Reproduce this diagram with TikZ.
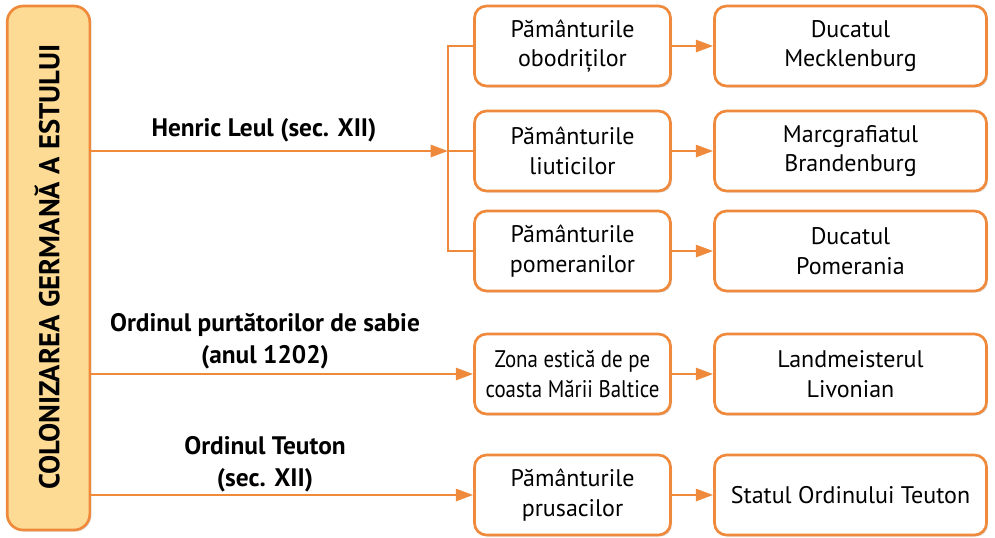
\documentclass[tikz,border=0pt]{standalone}
\usepackage{fontspec}
\setmainfont{PT Sans}
\newfontfamily\narrowsans[FakeStretch=0.87]{PT Sans}
\usetikzlibrary{arrows.meta,shadows}
\definecolor{edge}{RGB}{239,137,59}
\definecolor{barfill}{RGB}{253,219,148}

\begin{document}
\begin{tikzpicture}[x=0.75pt, y=-0.75pt,
        land/.style={rectangle, rounded corners=9pt, draw=edge, line width=2pt, fill=white,
            minimum width=147pt, minimum height=60pt, align=center,
            font=\fontsize{18}{22}\selectfont,
            drop shadow={shadow xshift=1.2pt, shadow yshift=-1.2pt, opacity=0.25}},
        realm/.style={land, minimum width=204pt},
        band/.style={rectangle, rounded corners=12pt, draw=edge, line width=2pt, fill=barfill,
            minimum width=62pt, minimum height=393pt,
            drop shadow={shadow xshift=1.2pt, shadow yshift=-1.2pt, opacity=0.25}},
        lead/.style={align=center, font=\fontsize{19}{24}\selectfont\bfseries},
        arrow/.style={-{Triangle[length=13pt, width=9pt]}, draw=edge, line width=2pt},
        link/.style={draw=edge, line width=2pt}
    ]
    \useasboundingbox (0,0) rectangle (995,537);

    % Left band
    \node[band] (band) at (48.5,268) {};
    \node[rotate=90, font=\fontsize{21.5}{24}\selectfont\bfseries] (bandtext) at (47,267) {COLONIZAREA GERMANĂ A ESTULUI};

    % Henric Leul
    \node[land] (obod) at (572.5,46) {Pământurile\\obodriților};
    \node[land] (liut) at (572.5,151) {Pământurile\\liuticilor};
    \node[land] (pom) at (572.5,251) {Pământurile\\pomeranilor};
    \node[realm] (meck) at (850.5,46) {Ducatul\\Mecklenburg};
    \node[realm] (brand) at (850.5,151) {Marcgrafiatul\\Brandenburg};
    \node[realm] (pomer) at (850.5,251) {Ducatul\\Pomerania};
    \coordinate (fork) at (448,151);
    \node[lead] (hen) at (264,130) {Henric Leul (sec. XII)};

    \draw[arrow] (band.east |- fork) -- (fork);
    \draw[link] (obod.west) -| (fork) |- (pom.west);
    \draw[link] (fork) -- (liut.west);
    \draw[arrow] (obod) -- (meck);
    \draw[arrow] (liut) -- (brand);
    \draw[arrow] (pom) -- (pomer);

    % Ordinul purtatorilor de sabie
    \node[land, font=\narrowsans\fontsize{18}{22}\selectfont] (zona) at (572.5,374) {Zona estică de pe\\coasta Mării Baltice};
    \node[realm] (livon) at (850.5,374) {Landmeisterul\\Livonian};
    \node[lead] (sab) at (265,341) {Ordinul purtătorilor de sabie\\(anul 1202)};

    \draw[arrow] (band.east |- zona.west) -- (zona.west);
    \draw[arrow] (zona) -- (livon);

    % Ordinul Teuton
    \node[land] (prus) at (572.5,495) {Pământurile\\prusacilor};
    \node[realm] (teut) at (850.5,495) {Statul Ordinului Teuton};
    \node[lead] (ord) at (265,464) {Ordinul Teuton\\(sec. XII)};

    \draw[arrow] (band.east |- prus.west) -- (prus.west);
    \draw[arrow] (prus) -- (teut);

\end{tikzpicture}
\end{document}
